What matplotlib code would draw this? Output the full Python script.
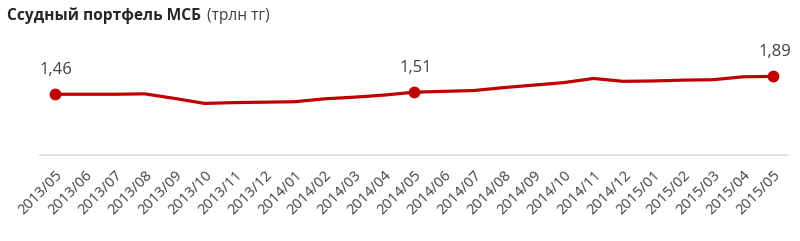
import matplotlib
matplotlib.use("Agg")
import matplotlib.pyplot as plt

months = ["2013/05", "2013/06", "2013/07", "2013/08", "2013/09", "2013/10", "2013/11", "2013/12",
          "2014/01", "2014/02", "2014/03", "2014/04", "2014/05", "2014/06", "2014/07", "2014/08",
          "2014/09", "2014/10", "2014/11", "2014/12", "2015/01", "2015/02", "2015/03", "2015/04",
          "2015/05"]
values = [1.46, 1.46, 1.46, 1.47, 1.36, 1.24, 1.26, 1.27,
          1.28, 1.35, 1.39, 1.44, 1.51, 1.53, 1.55, 1.62,
          1.68, 1.74, 1.84, 1.77, 1.78, 1.80, 1.81, 1.88,
          1.89]
marked_idx = [0, 12, 24]
marked_labels = ["1,46", "1,51", "1,89"]

title_bold = "Ссудный портфель МСБ"
title_normal = "(трлн тг)"

W, H = 800, 241
fig = plt.figure(figsize=(W / 100, H / 100), dpi=100)
fig.patch.set_facecolor("white")
ax = fig.add_axes([40 / W, (H - 155) / H, 748 / W, 145.6 / H])

red = "#C00000"
txt = "#404040"
font = "Open Sans"

x = list(range(len(values)))
ax.plot(x, values, color=red, lw=2.3, solid_capstyle="round", solid_joinstyle="round", zorder=3)
ax.plot([x[i] for i in marked_idx], [values[i] for i in marked_idx], "o",
        color=red, markersize=7.5, zorder=4)
for i, lab in zip(marked_idx, marked_labels):
    ax.annotate(lab, (x[i], values[i]), xytext=(1, 17.5), textcoords="offset points",
                ha="center", va="center", fontsize=12, color=txt, family=font)

ax.set_xlim(-0.5, len(values) - 0.5)
ax.set_ylim(0, 3.5)
ax.set_yticks([])
for s in ["top", "right", "left"]:
    ax.spines[s].set_visible(False)
ax.spines["bottom"].set_color("#d9d9d9")
ax.spines["bottom"].set_linewidth(1.2)
ax.set_xticks(x)
ax.set_xticklabels(months, rotation=45, ha="right", rotation_mode="anchor",
                   fontsize=10.5, color=txt, family=font)
ax.tick_params(axis="x", length=0, pad=9)

t1 = fig.text(7 / W, 1 - 16 / H, title_bold, fontsize=11.2, fontweight="bold", color="#262626",
              family=font, va="center", ha="left")
fig.canvas.draw()
bb = t1.get_window_extent(renderer=fig.canvas.get_renderer())
fig.text((bb.x1 + 6) / W, 1 - 16 / H, title_normal, fontsize=11.2, color="#404040",
         family=font, va="center", ha="left")

fig.savefig("out.png", dpi=100, facecolor="white")
